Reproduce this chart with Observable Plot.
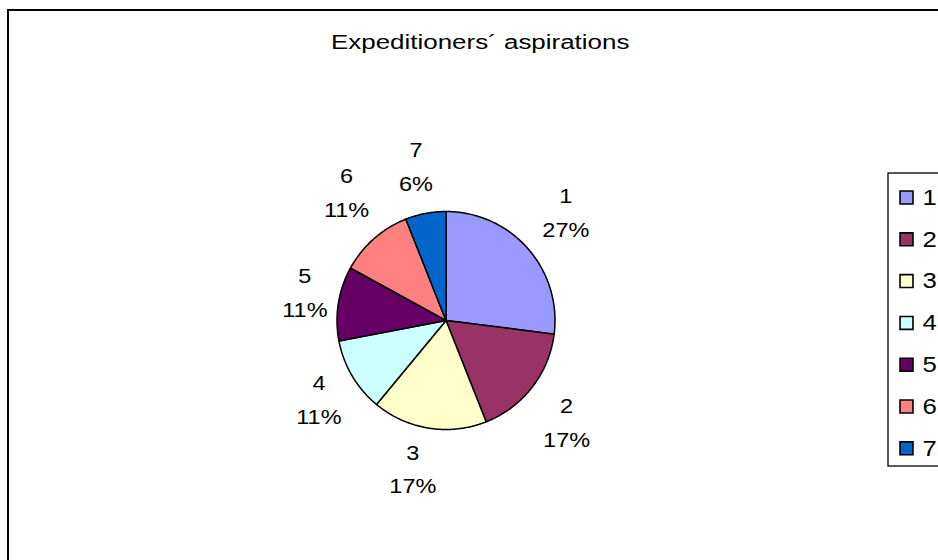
<!DOCTYPE html>
<html>
<head>
<meta charset="utf-8">
<script src="https://cdn.jsdelivr.net/npm/d3@7"></script>
<script src="https://cdn.jsdelivr.net/npm/@observablehq/plot@0.6"></script>
<style>
  html, body { margin: 0; padding: 0; background: #fff; overflow: hidden; }
  #wrap { position: relative; width: 938px; height: 560px; overflow: hidden; font-family: "Liberation Sans", Arial, sans-serif; }
  #frame { position: absolute; left: 7px; top: 9px; width: 1000px; height: 600px; border: 2px solid #000; box-sizing: border-box; }
  #title { position: absolute; left: 0; width: 960px; top: 31px; line-height: 22px; text-align: center; font-size: 19.5px; color: #000; }
  #title span { display: inline-block; transform: scaleX(1.33); transform-origin: 50% 50%; }
  #chart { position: absolute; left: 0; top: 0; }
</style>
</head>
<body>
<div id="wrap">
  <div id="frame"></div>
  <div id="title"><span>Expeditioners´ aspirations</span></div>
  <div id="chart"></div>
</div>
<script>
const categories = ["1", "2", "3", "4", "5", "6", "7"];
const values = [27, 17, 17, 11, 11, 11, 6];
const colors = ["#9999FF", "#993366", "#FFFFCC", "#CCFFFF", "#660066", "#FF8080", "#0066CC"];

const W = 938, H = 560;
const cx = 445.5, cy = 320, R = 109;

const data = categories.map((c, i) => ({key: c, value: values[i]}));
const total = d3.sum(values);
const arcs = d3.pie().sort(null).value(d => d.value)(data);

// slice outlines: centre + arc points
const slicePts = [];
for (const a of arcs) {
  slicePts.push({key: a.data.key, x: cx, y: cy});
  const n = Math.max(2, Math.ceil((a.endAngle - a.startAngle) / 0.01));
  for (let k = 0; k <= n; k++) {
    const t = a.startAngle + (a.endAngle - a.startAngle) * k / n;
    slicePts.push({key: a.data.key, x: cx + R * Math.sin(t), y: cy - R * Math.cos(t)});
  }
}

// labels placed outside along the mid angle (box of w x h kept off the rim),
// with small layout nudges (px) to mimic the spreadsheet's label placement
const lw = 46, lh = 66, off = 9;
const labelNudge = [[2, -3.5], [-3, 7], [-9, -3], [6, 1], [3, -4.5], [5, -9], [-1, -1.5]];
const labels = arcs.map((a, i) => {
  const m = (a.startAngle + a.endAngle) / 2;
  const s = Math.sin(m), c = Math.cos(m);
  const d = R + off + Math.abs(lw / 2 * s) + Math.abs(lh / 2 * c);
  return {key: a.data.key, pct: Math.round(a.data.value / total * 100) + "%",
          x: cx + d * s + labelNudge[i][0], y: cy - d * c + labelNudge[i][1]};
});

// legend
const legX = 906, legTop = 197, legStep = 41.8;
const legend = categories.map((c, i) => ({key: c, x: legX, y: legTop + i * legStep}));

const plot = Plot.plot({
  width: W, height: H,
  margin: 0,
  x: {domain: [0, W], range: [0, W], axis: null},
  y: {domain: [0, H], range: [0, H], axis: null},
  color: {domain: categories, range: colors},
  style: {fontFamily: "'Liberation Sans', Arial, sans-serif", background: "transparent"},
  marks: [
    Plot.line(slicePts, {x: "x", y: "y", z: "key", fill: "key", stroke: "#000", strokeWidth: 1.5, curve: "linear-closed"}),
    Plot.text(labels, {x: "x", y: "y", dy: -4, text: d => d.key + "\n" + d.pct, fontSize: 21, lineHeight: 1.6, fill: "#000"}),
    Plot.rect([0], {x1: 888, x2: 960, y1: 173, y2: 466, fill: "#fff", stroke: "#000", strokeWidth: 1.3}),
    Plot.dot(legend, {x: "x", y: "y", symbol: "square", r: 7.3, fill: "key", stroke: "#000", strokeWidth: 1.6}),
    Plot.text(legend, {x: d => d.x + 16, y: "y", text: "key", textAnchor: "start", fontSize: 23, fill: "#000"})
  ]
});
// widen glyphs horizontally like the reference rendering
plot.querySelectorAll("text").forEach(t => {
  const tr = t.getAttribute("transform");
  if (tr) t.setAttribute("transform", tr + " scale(1.12,1)");
});
document.getElementById("chart").appendChild(plot);
</script>
</body>
</html>
